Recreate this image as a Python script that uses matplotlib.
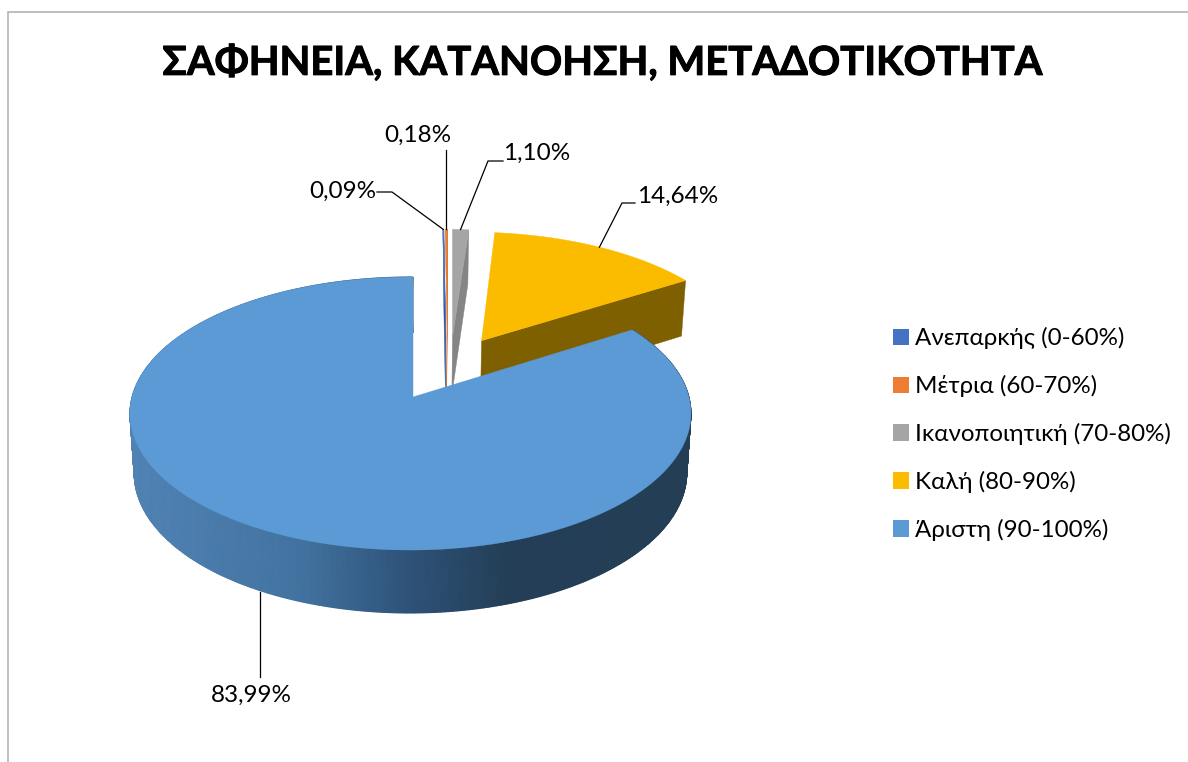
import numpy as np
import matplotlib
matplotlib.use('Agg')
import matplotlib.pyplot as plt
import matplotlib.patheffects as pe
from matplotlib.colors import LinearSegmentedColormap
from matplotlib.patches import Patch, Polygon

plt.rcParams['font.family'] = ['Lato', 'Noto Sans', 'DejaVu Sans']

title = 'ΣΑΦΗΝΕΙΑ, ΚΑΤΑΝΟΗΣΗ, ΜΕΤΑΔΟΤΙΚΟΤΗΤΑ'
categories = ['Ανεπαρκής (0-60%)', 'Μέτρια (60-70%)', 'Ικανοποιητική (70-80%)',
              'Καλή (80-90%)', 'Άριστη (90-100%)']
values = [0.09, 0.18, 1.10, 14.64, 83.99]
value_labels = ['0,09%', '0,18%', '1,10%', '14,64%', '83,99%']

colors = ['#4472c4', '#ed7d31', '#a5a5a5', '#fbbc00', '#5b9ad5']
wall_colors = ['#2f5597', '#c0561a', '#858585', '#7f6000', None]

# how far every slice is pulled out of the pie, in disc units (right, back)
explode = [(0.125, 0.47), (0.13, 0.47), (0.15, 0.47), (0.26, 0.442), (0.0, 0.0)]

# text centre of each label and the elbow of its leader, in pixels
label_pos = [(343, 191), (418, 135), (537, 153), (678, 196), (251, 695)]
elbow_pos = [(392, 192), None, (488, 161), (622, 203), None]

# fake perspective of the disc
APEX_X, APEX_Y = 413, 397
SCALE_X, SCALE_Y = 278.4, 134.5
PERSP_V, PERSP_U = 0.121, 0.009
DEPTH = 63

# shading of the blue rim runs from left to right
rim_x = np.array([133, 300, 410, 510, 690])
rim_rgb = ['#5082b4', '#4273a0', '#2e5278', '#233e56', '#243e56']


def project(u, v):
    w = 1 + PERSP_V * v + PERSP_U * u
    return APEX_X + SCALE_X * u / w, APEX_Y - SCALE_Y * v / w


def project_low(u, v):
    x, y = project(u, v)
    w = 1 + PERSP_V * v + PERSP_U * u
    depth = DEPTH * np.sqrt((1 - PERSP_V) / w)
    return APEX_X + (x - APEX_X) * 0.985, y + depth


fig = plt.figure(figsize=(11.88, 7.62), dpi=100)
ax = fig.add_axes([0, 0, 1, 1])
ax.set_xlim(0, 1188)
ax.set_ylim(762, 0)
ax.axis('off')

# chart frame
ax.plot([8, 8, 1188], [762, 12, 12], color='#b4b4b4', lw=1.2, solid_joinstyle='miter')

edges = np.radians(np.cumsum([0] + values) * 3.6)
stops = (rim_x - rim_x[0]) / (rim_x[-1] - rim_x[0])
rim_cmap = LinearSegmentedColormap.from_list('rim', list(zip(stops, rim_rgb)))

for i in [3, 0, 1, 2, 4]:
    a0, a1 = edges[i], edges[i + 1]
    eu, ev = explode[i]
    t = np.linspace(a0, a1, max(int(np.degrees(a1 - a0) * 2), 2))
    u = eu + np.sin(t)
    v = ev + np.cos(t)

    if i == 4:
        # rim of the big slice as one smooth mesh
        top = project(u, v)
        low = project_low(u, v)
        X = np.vstack([top[0], low[0]])
        Y = np.vstack([top[1], low[1]])
        ax.pcolormesh(X, Y, X, shading='gouraud', cmap=rim_cmap,
                      vmin=rim_x[0], vmax=rim_x[-1])
        ax.set_xlim(0, 1188)
        ax.set_ylim(762, 0)
    else:
        # cut face on the clockwise side, seen from the front
        p0 = project(eu, ev)
        p1 = project(u[-1], v[-1])
        q1 = project_low(u[-1], v[-1])
        q0 = project_low(eu, ev)
        ax.add_patch(Polygon([p0, p1, q1, q0], closed=True, fc=wall_colors[i],
                             ec=wall_colors[i], lw=0.3))

    xs, ys = project(np.r_[eu, u], np.r_[ev, v])
    ax.add_patch(Polygon(np.c_[xs, ys], closed=True, fc=colors[i], ec=colors[i], lw=0.3))

# leader lines go to the middle of each slice's outer edge
for i in range(len(values)):
    mid = (edges[i] + edges[i + 1]) / 2
    eu, ev = explode[i]
    u, v = eu + np.sin(mid), ev + np.cos(mid)
    ax_, ay_ = project_low(u, v) if i == 4 else project(u, v)
    lx, ly = label_pos[i]
    if i == 1:
        pts = [(ax_, ly + 15), (ax_, ay_)]
    elif i == 4:
        ax_ -= 4
        pts = [(ax_, ly - 18), (ax_, ay_)]
    elif i == 0:
        pts = [(lx + 34, elbow_pos[i][1]), elbow_pos[i], (ax_, ay_)]
    else:
        pts = [(lx - 34 if i == 2 else lx - 43, elbow_pos[i][1]), elbow_pos[i], (ax_, ay_)]
    ax.plot([p[0] for p in pts], [p[1] for p in pts], color='black', lw=0.9, zorder=5)
    ax.text(lx, ly, value_labels[i], fontsize=17.5, ha='center', va='center', color='black', zorder=6)

# the title face in the reference is a bit heavier than Lato Bold
ax.text(603, 63, title, fontsize=28.8, fontweight='bold', ha='center', va='center', color='black',
        path_effects=[pe.withStroke(linewidth=0.7, foreground='black')])

handles = [Patch(fc=c, ec=c, lw=0) for c in colors]
ax.legend(handles, categories, loc='center left', bbox_to_anchor=(893 / 1188, 1 - 434 / 762),
          frameon=False, fontsize=17.4, handlelength=0.65, handleheight=0.65,
          handletextpad=0.27, labelspacing=1.07, borderpad=0, borderaxespad=0)

fig.savefig('out.png', dpi=100)
